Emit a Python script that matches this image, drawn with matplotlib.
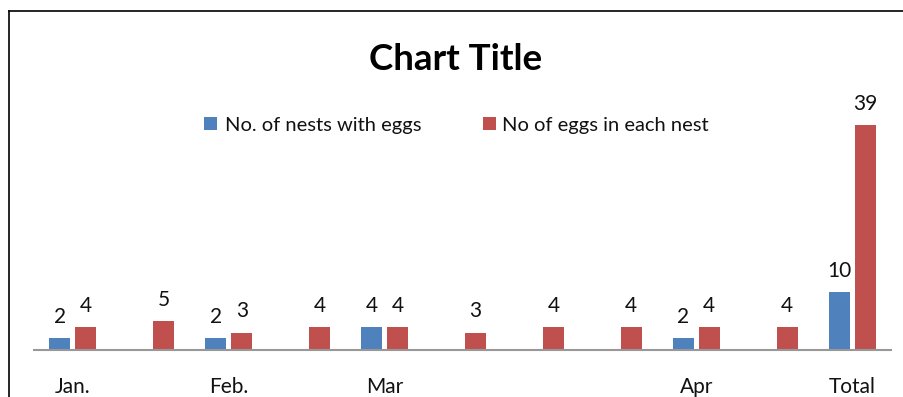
import numpy as np
import matplotlib
matplotlib.use("Agg")
import matplotlib.pyplot as plt
from matplotlib.lines import Line2D
from matplotlib.patches import Rectangle

plt.rcParams["font.family"] = ["Lato", "DejaVu Sans"]

categories = ["Jan.", "", "Feb.", "", "Mar", "", "", "", "Apr", "", "Total"]
nests_with_eggs = [2, None, 2, None, 4, None, None, None, 2, None, 10]
eggs_per_nest = [4, 5, 3, 4, 4, 3, 4, 4, 4, 4, 39]
series_names = ["No. of nests with eggs", "No of eggs in each nest"]
colors = ["#4F81BD", "#C0504D"]

W, H = 904, 397
fig = plt.figure(figsize=(W / 100, H / 100), dpi=100)

# plot area in pixel units
left, right, base = 34, 891, 350
ymax = 45
unit = 5.76
top = base - ymax * unit
ax = fig.add_axes([left / W, (H - base) / H, (right - left) / W, (base - top) / H])

x = np.arange(len(categories))
bw = 0.27
off = 0.167

for vals, sign, col in [(nests_with_eggs, -1, colors[0]), (eggs_per_nest, 1, colors[1])]:
    for i, v in enumerate(vals):
        if v is None:
            continue
        ax.bar(x[i] + sign * off, v, width=bw, color=col, linewidth=0)
        ax.annotate(str(v), (x[i] + sign * off, v), xytext=(0, 11),
                    textcoords="offset points", ha="center", va="baseline",
                    fontsize=15, color="#111111")

for i, lab in enumerate(categories):
    if lab:
        ax.annotate(lab, (x[i], 0), xytext=(0, -31), textcoords="offset points",
                    ha="center", va="baseline", fontsize=15, color="#111111",
                    annotation_clip=False)

ax.set_xlim(-0.5, len(categories) - 0.5)
ax.set_ylim(0, ymax)
ax.axhline(0, color="#989898", linewidth=1.5, clip_on=False)
for s in ax.spines.values():
    s.set_visible(False)
ax.set_xticks([])
ax.set_yticks([])

# title and legend
fig.text(456 / W, 1 - 70 / H, "Chart Title", ha="center", va="baseline",
         fontsize=26.5, fontweight="bold", color="black")
legend_items = [(204, 225, series_names[0], colors[0]), (483, 502, series_names[1], colors[1])]
for sx, tx, name, col in legend_items:
    fig.add_artist(Rectangle((sx / W, 1 - 130 / H), 13 / W, 13 / H,
                             transform=fig.transFigure, color=col, linewidth=0))
    fig.text(tx / W, 1 - 131 / H, name, ha="left", va="baseline",
             fontsize=14.5, color="#111111")

# chart border
fig.add_artist(Line2D([8.5 / W, 8.5 / W], [0, 1 - 10.5 / H], color="black", linewidth=1.2))
fig.add_artist(Line2D([8.5 / W, 1], [1 - 10.5 / H, 1 - 10.5 / H], color="black", linewidth=1.2))

fig.savefig("out.png", dpi=100)
